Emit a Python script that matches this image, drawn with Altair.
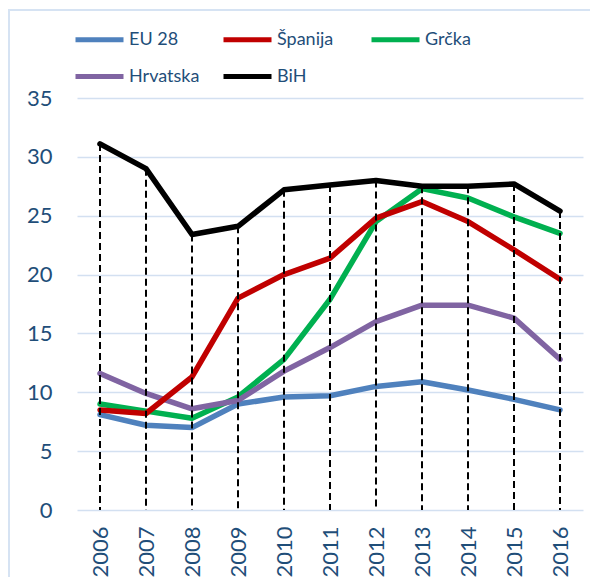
import altair as alt
import pandas as pd

years = [str(y) for y in range(2006, 2017)]
series = ["EU 28", "Španija", "Grčka", "Hrvatska", "BiH"]
eu28 = [8.1, 7.2, 7.0, 9.0, 9.6, 9.7, 10.5, 10.9, 10.2, 9.4, 8.5]
spanija = [8.5, 8.2, 11.3, 18.0, 20.0, 21.4, 24.8, 26.2, 24.5, 22.1, 19.6]
grcka = [9.0, 8.4, 7.8, 9.6, 12.8, 17.9, 24.5, 27.3, 26.5, 24.9, 23.5]
hrvatska = [11.6, 9.9, 8.6, 9.3, 11.8, 13.8, 16.0, 17.4, 17.4, 16.3, 12.8]
bih = [31.1, 29.0, 23.4, 24.1, 27.2, 27.6, 28.0, 27.5, 27.5, 27.7, 25.4]
colors = ["#4F81BD", "#C00000", "#00B050", "#8064A2", "#000000"]
y_ticks = [0, 5, 10, 15, 20, 25, 30, 35]

values = {"EU 28": eu28, "Španija": spanija, "Grčka": grcka,
          "Hrvatska": hrvatska, "BiH": bih}
draw_order = ["EU 28", "Grčka", "Hrvatska", "Španija", "BiH"]
rows = []
for s in draw_order:
    for i, (yr, v) in enumerate(zip(years, values[s])):
        rows.append({"series": s, "year": yr, "value": v, "idx": i})
df = pd.DataFrame(rows)
drop_df = pd.DataFrame({"year": years, "value": bih})

TEXT = "#1F4E79"
FONT = "Lato"

x_enc = alt.X("year:O", scale=alt.Scale(type="point", padding=0.5),
              axis=alt.Axis(title=None, labelAngle=270, labelAlign="right",
                            labelBaseline="middle", labelPadding=16,
                            ticks=False, domain=False, grid=False,
                            labelFontSize=22, labelColor=TEXT, labelFont=FONT))
y_scale = alt.Scale(domain=[0, 35], nice=False)

frame = alt.Chart(pd.DataFrame({"a": [0]})).mark_rect(
    fill="transparent", stroke="#D6E3F3", strokeWidth=2
).encode(x=alt.value(-68), x2=alt.value(700), y=alt.value(-88), y2=alt.value(700))

lines = alt.Chart(df).mark_line(strokeWidth=5.5, strokeCap="round", strokeJoin="round").encode(
    x=x_enc,
    y=alt.Y("value:Q", scale=y_scale,
            axis=alt.Axis(title=None, values=y_ticks, ticks=False, domain=False,
                          labelPadding=25, labelFontSize=22, labelColor=TEXT,
                          labelFont=FONT, gridColor="#D3E0F1", gridWidth=1.5)),
    color=alt.Color("series:N", scale=alt.Scale(domain=series, range=colors),
                    sort=series,
                    legend=alt.Legend(title=None, orient="none", legendX=-4, legendY=-85,
                                      direction="horizontal",
                                      columns=3, gridAlign="all", columnPadding=13,
                                      rowPadding=-14, symbolType="stroke",
                                      symbolSize=2304, symbolStrokeWidth=5,
                                      labelFontSize=18, labelColor=TEXT,
                                      labelFont=FONT, labelOffset=3, padding=0)),
    order="idx:Q",
)

drops = alt.Chart(drop_df).mark_rule(color="black", strokeWidth=2, strokeDash=[7, 4]).encode(
    x=alt.X("year:O"),
    y=alt.Y("value:Q", scale=y_scale),
    y2=alt.datum(0),
)

chart = alt.layer(frame, lines, drops).properties(
    width=506, height=412,
    autosize=alt.AutoSizeParams(type="none"),
    padding={"left": 69, "top": 90, "right": 7, "bottom": 67},
    background="white",
).configure_view(stroke=None)

chart.save("out.html", embed_options={"renderer": "svg", "actions": False})
